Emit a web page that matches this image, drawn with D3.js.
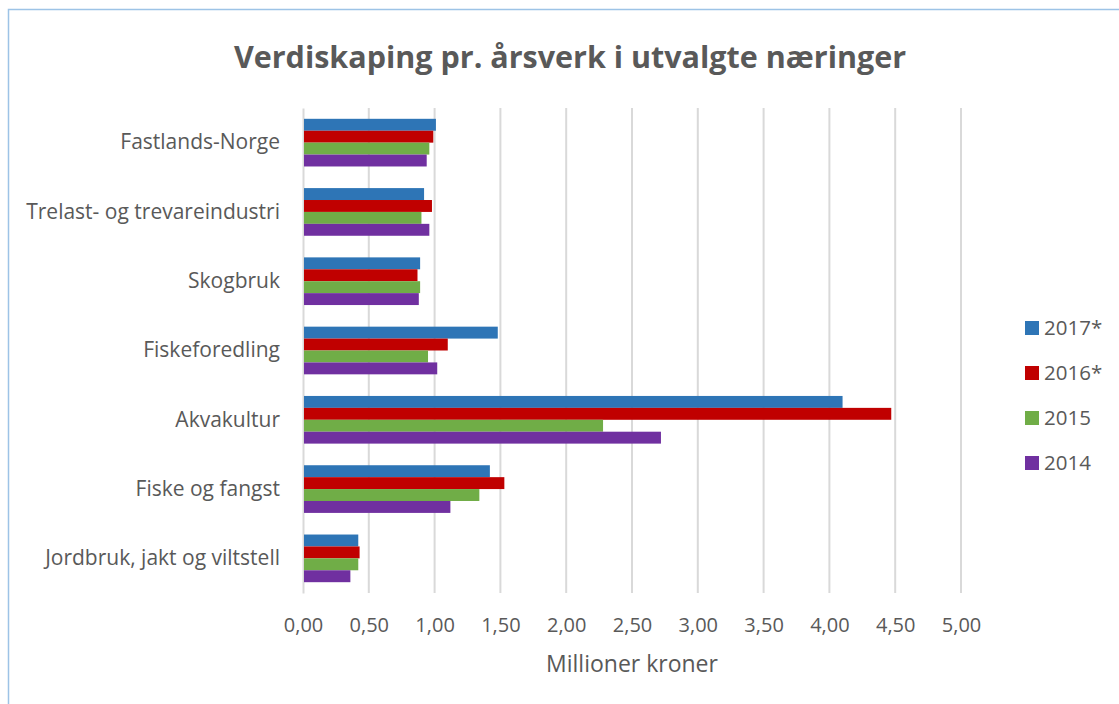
<!DOCTYPE html>
<html>
<head>
<meta charset="utf-8">
<script src="https://cdn.jsdelivr.net/npm/d3@7"></script>
<style>
  body { margin: 0; background: #fff; }
  svg { display: block; font-family: "Open Sans", sans-serif; }
</style>
</head>
<body>
<div id="chart"></div>
<script>
const categories = [
  "Fastlands-Norge",
  "Trelast- og trevareindustri",
  "Skogbruk",
  "Fiskeforedling",
  "Akvakultur",
  "Fiske og fangst",
  "Jordbruk, jakt og viltstell"
];
const seriesNames = ["2017*", "2016*", "2015", "2014"];
const values2017 = [1.01, 0.92, 0.89, 1.48, 4.10, 1.42, 0.42];
const values2016 = [0.99, 0.98, 0.87, 1.10, 4.47, 1.53, 0.43];
const values2015 = [0.96, 0.90, 0.89, 0.95, 2.28, 1.34, 0.42];
const values2014 = [0.94, 0.96, 0.88, 1.02, 2.72, 1.12, 0.36];
const xTicks = [0, 0.5, 1, 1.5, 2, 2.5, 3, 3.5, 4, 4.5, 5];
const seriesColors = ["#2E75B6", "#C00000", "#70AD47", "#7030A0"];

const seriesValues = [values2017, values2016, values2015, values2014];
const rows = categories.map((c, i) => ({
  category: c,
  values: seriesNames.map((s, j) => ({ series: s, value: seriesValues[j][i] }))
}));

const width = 1119, height = 704;
const margin = { top: 108, right: 156, bottom: 111, left: 303 };

const svg = d3.select("#chart").append("svg")
  .attr("width", width)
  .attr("height", height);

// chart frame
svg.append("rect")
  .attr("x", 8.5).attr("y", 9.5)
  .attr("width", width + 20).attr("height", height + 20)
  .attr("fill", "none")
  .attr("stroke", "#9DC3E6")
  .attr("stroke-width", 1.5);

const x = d3.scaleLinear()
  .domain([0, 5])
  .range([margin.left, width - margin.right - 2]);

const y = d3.scaleBand()
  .domain(categories)
  .range([margin.top, height - margin.bottom])
  .paddingInner(0.312)
  .paddingOuter(0.156);

const ySub = d3.scaleBand()
  .domain(seriesNames)
  .range([0, y.bandwidth()]);

const color = d3.scaleOrdinal().domain(seriesNames).range(seriesColors);

const nb = d3.formatLocale({ decimal: ",", thousands: " ", grouping: [3], currency: ["", " kr"] });
const fmt = nb.format(".2f");

// title
svg.append("text")
  .attr("x", 570)
  .attr("y", 68)
  .attr("text-anchor", "middle")
  .attr("fill", "#595959")
  .attr("font-weight", 700)
  .attr("font-size", 30.5)
  .text("Verdiskaping pr. årsverk i utvalgte næringer");

// gridlines
svg.append("g")
  .selectAll("line")
  .data(xTicks.slice(1))
  .join("line")
  .attr("x1", d => x(d)).attr("x2", d => x(d))
  .attr("y1", margin.top).attr("y2", height - margin.bottom)
  .attr("stroke", "#D9D9D9")
  .attr("stroke-width", 2);

// x axis labels
const xAxis = svg.append("g")
  .attr("transform", `translate(0,${height - margin.bottom})`)
  .call(d3.axisBottom(x).tickValues(xTicks).tickFormat(fmt).tickSize(0).tickPadding(25));
xAxis.select(".domain").remove();
xAxis.selectAll("text")
  .attr("fill", "#595959")
  .attr("font-size", 20)
  .attr("font-family", "'Open Sans', sans-serif");

svg.append("text")
  .attr("x", 632)
  .attr("y", 672)
  .attr("text-anchor", "middle")
  .attr("fill", "#595959")
  .attr("font-size", 23)
  .text("Millioner kroner");

// y axis
const yAxis = svg.append("g")
  .attr("transform", `translate(${margin.left},0)`)
  .call(d3.axisLeft(y).tickSize(0).tickPadding(23));
yAxis.select(".domain")
  .attr("stroke", "#D9D9D9")
  .attr("stroke-width", 2);
yAxis.selectAll("text")
  .attr("fill", "#595959")
  .attr("font-size", 21)
  .attr("font-family", "'Open Sans', sans-serif");

// bars
const groups = svg.append("g")
  .selectAll("g")
  .data(rows)
  .join("g")
  .attr("transform", d => `translate(0,${y(d.category)})`);

groups.selectAll("rect")
  .data(d => d.values)
  .join("rect")
  .attr("x", x(0) + 1)
  .attr("y", d => ySub(d.series))
  .attr("width", d => x(d.value) - x(0) - 1)
  .attr("height", ySub.bandwidth())
  .attr("fill", d => color(d.series));

// legend
const legend = svg.append("g")
  .attr("transform", "translate(1025,321)");

seriesNames.forEach((s, i) => {
  const row = legend.append("g")
    .attr("transform", `translate(0,${i * 45})`);
  row.append("rect")
    .attr("width", 14).attr("height", 14)
    .attr("fill", color(s));
  row.append("text")
    .attr("x", 19)
    .attr("y", 14)
    .attr("fill", "#595959")
    .attr("font-size", 20.5)
    .text(s);
});
</script>
</body>
</html>
